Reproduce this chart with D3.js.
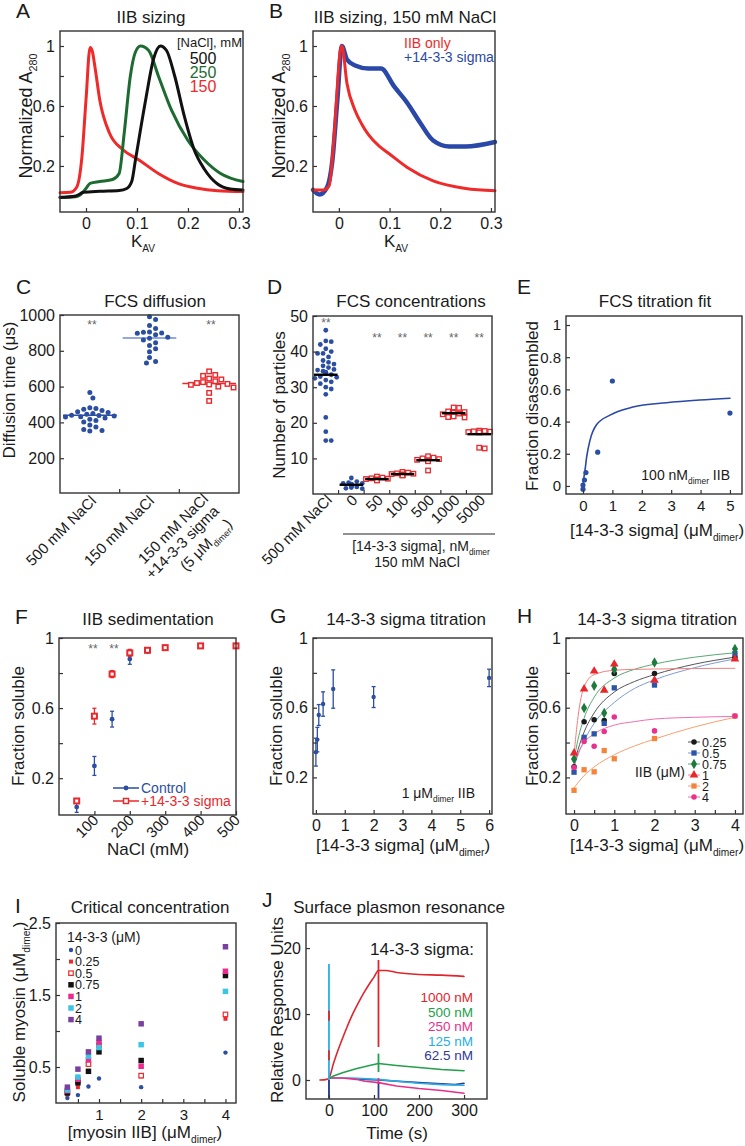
<!DOCTYPE html>
<html>
<head>
<meta charset="utf-8">
<script src="https://d3js.org/d3.v7.min.js"></script>
<style>
body { margin: 0; background: #fff; }
svg { display: block; }
</style>
</head>
<body>
<svg width="745" height="1146"></svg>
<script>
// ---------- data ----------
// A: elution profiles [K_AV, normalized A280]
const sizing500 = [[-0.051,-0.01],[-0.02,0.0],[-0.005,0.024],[0.027,0.031],[0.065,0.036],[0.08,0.05],[0.09,0.1],[0.097,0.24],[0.117,0.64],[0.133,0.92],[0.146,1.0],[0.158,0.97],[0.174,0.80],[0.193,0.53],[0.212,0.31],[0.232,0.18],[0.258,0.08],[0.283,0.047],[0.308,0.04]];
const sizing250 = [[-0.051,-0.009],[-0.02,-0.005],[-0.011,0.007],[0.0,0.05],[0.008,0.084],[0.027,0.096],[0.052,0.11],[0.065,0.15],[0.075,0.42],[0.087,0.80],[0.097,0.96],[0.107,1.0],[0.123,0.97],[0.142,0.80],[0.168,0.57],[0.2,0.37],[0.232,0.24],[0.264,0.15],[0.308,0.096]];
const sizing150 = [[-0.051,0.022],[-0.031,0.024],[-0.018,0.06],[-0.008,0.26],[0.0,0.64],[0.008,0.99],[0.012,0.97],[0.018,0.85],[0.027,0.64],[0.046,0.42],[0.072,0.31],[0.104,0.24],[0.142,0.15],[0.18,0.084],[0.219,0.051],[0.258,0.035],[0.308,0.029]];
// B
const sizingIIB = [[-0.051,0.04],[-0.03,0.04],[-0.019,0.07],[-0.01,0.37],[0.003,0.97],[0.006,1.0],[0.016,0.75],[0.032,0.57],[0.045,0.48],[0.058,0.41],[0.08,0.33],[0.096,0.29],[0.135,0.19],[0.186,0.10],[0.25,0.05],[0.308,0.035]];
const sizingSigma = [[-0.051,0.04],[-0.038,0.01],[-0.023,0.06],[-0.013,0.23],[-0.003,0.64],[0.006,1.0],[0.016,0.91],[0.032,0.87],[0.058,0.85],[0.083,0.85],[0.109,0.73],[0.135,0.62],[0.16,0.49],[0.186,0.37],[0.218,0.33],[0.25,0.33],[0.308,0.36]];

// C: diffusion times (us)
const diffCats = ["500 mM NaCl", "150 mM NaCl", "150 mM NaCl +14-3-3 sigma"];
const diff500 = [567,537,482,478,474,466,460,455,450,446,440,438,436,432,430,425,418,410,402,385,375,360,355,352];
const diff150 = [990,975,942,925,905,903,900,898,890,876,870,860,845,830,812,795,762,740,732];
const diffSigma = [685,665,660,645,640,630,625,620,615,612,610,600,595,565,520];
const diffMedian = [440, 872, 617];

// D: number of particles
const partCats = ["500 mM NaCl","0","50","100","500","1000","5000"];
const part500 = [46,43,42.8,42,40.8,40,39.5,39.5,38.5,37.5,37,36.5,36,35.5,35,34.8,34.5,34.2,34,33.8,33.5,33,32.8,32.5,32,31.5,31,30,29.5,28,21.5,17.5,15,15];
const part0 = [4.5,3.5,3.2,3,3,2.8,2.7,2.6,2.5,2.4,2.2,2,1.8,1.6,1.5];
const part50 = [4.9,4.6,4.4,4.3,4.2,4.1,4.0,3.9,3.8];
const part100 = [6.2,6.0,5.8,5.7,5.6,5.5,5.4,5.3,5.2];
const part500s = [10.6,10.2,10.0,9.8,9.6,9.5,9.3,9.2,6.6];
const part1000 = [24.3,24.2,23.2,23.0,22.8,22.6,22.4,21.8,21.6,21.5];
const part5000 = [17.8,17.7,17.6,17.5,17.4,17.3,13.0,12.8];
const partMedian = [33.5,2.6,4.2,5.6,9.5,22.7,16.8];

// E: titration fit
const fcsConc = [0,0,0.05,0.1,0.5,1,5];
const fcsFrac = [-0.02,0.006,0.037,0.083,0.21,0.652,0.453];
const fcsFitConc = [0,0.03,0.07,0.125,0.24,0.46,0.92,1.7,2.84,3.98,5];
const fcsFitFrac = [0,0.05,0.1,0.18,0.285,0.38,0.44,0.49,0.517,0.534,0.545];

// F: sedimentation vs NaCl
const sedNaClCtrl = [50,100,150,200,250,500];
const sedCtrl = [0.035,0.27,0.537,0.88,0.925,0.955];
const sedCtrlErr = [0.03,0.054,0.045,0.03,0.01,0.01];
const sedNaClSigma = [50,100,150,200,250,300,400,500];
const sedSigma = [0.07,0.554,0.794,0.915,0.93,0.945,0.955,0.955];
const sedSigmaErr = [0.01,0.045,0.02,0.02,0.01,0.01,0.005,0.005];

// G: titration at 1 uM IIB
const titConc = [0,0.05,0.1,0.25,0.6,2,6];
const titFrac = [0.345,0.417,0.558,0.621,0.707,0.661,0.771];
const titErr = [0.08,0.07,0.06,0.07,0.11,0.06,0.05];

// H: titration at several IIB concentrations
const hConc = [0,0.25,0.5,0.75,1,2,4];
const hIIB = ["0.25","0.5","0.75","1","2","4"];
const hSol = [
  [0.261,0.52,0.531,0.526,0.796,0.796,0.89],
  [0.23,0.43,0.45,0.51,0.714,0.73,0.91],
  [0.305,0.598,0.726,0.57,0.82,0.86,0.937],
  [0.34,0.707,0.81,0.70,0.85,0.758,0.88],
  [0.126,0.244,0.232,0.354,0.307,0.423,0.552],
  [0.257,0.406,0.379,0.463,0.547,0.467,0.552]
];
const hFitConc = [0,0.1,0.25,0.5,1,1.5,2,3,4];
const hFit = [
  [0.27,0.36,0.46,0.57,0.69,0.75,0.79,0.85,0.89],
  [0.26,0.33,0.41,0.51,0.63,0.71,0.76,0.83,0.88],
  [0.30,0.42,0.54,0.66,0.77,0.82,0.85,0.89,0.915],
  [0.33,0.55,0.72,0.79,0.815,0.82,0.822,0.825,0.826],
  [0.14,0.17,0.21,0.26,0.33,0.38,0.42,0.49,0.545],
  [0.27,0.34,0.40,0.45,0.50,0.52,0.535,0.545,0.55]
];

// I: critical concentration
const myosinIIB = [0.25,0.5,0.75,1,2,4];
const sigmaLevels = ["0","0.25","0.5","0.75","1","2","4"];
const solMyosin = [
  [0.07,0.11,0.23,0.34,0.22,0.70],
  [0.12,0.22,0.58,0.83,0.37,1.17],
  [0.15,0.31,0.54,0.80,0.38,1.23],
  [0.14,0.28,0.44,0.71,0.59,1.77],
  [0.17,0.33,0.60,0.84,0.51,1.83],
  [0.18,0.36,0.65,0.77,0.81,1.55],
  [0.22,0.47,0.71,0.90,1.10,2.17]
];

// J: SPR sensorgrams [time s, RU]
const spr1000 = [[-20,0],[-5,0.1],[0,0.3],[10,2.5],[20,4.5],[30,6.3],[40,8],[50,9.6],[60,11],[70,12.3],[80,13.5],[90,14.6],[100,15.6],[110,16.6],[125,16.6],[150,16.3],[200,16.0],[250,15.9],[300,15.7]];
const spr500 = [[0,0.2],[10,0.6],[30,1.1],[60,1.7],[90,2.2],[110,2.5],[150,2.2],[200,1.9],[250,1.6],[300,1.4]];
const spr250 = [[0,0.3],[30,0.3],[60,0.1],[80,-0.2],[110,-0.4],[150,-0.9],[200,-1.3],[250,-1.6],[300,-2.0]];
const spr125 = [[0,0.3],[50,0.3],[110,0.1],[150,-0.2],[200,-0.5],[250,-0.7],[300,-0.8]];
const spr62 = [[60,0.2],[75,0.1],[110,0.0],[200,-0.4],[280,-0.7],[300,-0.5]];
const sprLabels = ["1000 nM","500 nM","250 nM","125 nM","62.5 nM"];
const sprSpikes = [[0,-2.8,17.6,3],[0,9,10.5,0],[0,3,4.5,0],[0,-2.8,0,4],[110,5,18.2,0],[110,1.2,4,1],[110,-2.8,-0.4,4],[110,-0.6,0.3,2]];

// ---------- helpers ----------
const FONT = "'Liberation Sans', Arial, Helvetica, sans-serif";
const svg = d3.select("svg").attr("font-family", FONT);
const BLUE = "#2b4ea2", RED = "#e8282c", INK = "#1a1a1a";
const TITLE = 17, LAB = 17, TICK = 15, LETTER = 21;

function txt(x, y, parts, o = {}) {
  const size = o.size || 15;
  const t = svg.append("text").attr("x", x).attr("y", y)
    .attr("font-size", size).attr("fill", o.fill || INK)
    .attr("text-anchor", o.anchor || "start");
  if (o.rotate) t.attr("transform", `rotate(${o.rotate},${x},${y})`);
  let shift = 0;
  (typeof parts === "string" ? [parts] : parts).forEach(p => {
    if (typeof p === "string") {
      t.append("tspan").attr("dy", -shift).text(p);
      shift = 0;
    } else {
      shift = size * 0.28;
      t.append("tspan").attr("dy", shift).attr("font-size", size * 0.6).text(p.sub);
    }
  });
  return t;
}

function frame(x0, y0, x1, y1) {
  svg.append("rect").attr("x", x0).attr("y", y0)
    .attr("width", x1 - x0).attr("height", y1 - y0)
    .attr("fill", "none").attr("stroke", "#333").attr("stroke-width", 1.4);
}

function styleAxis(g, size) {
  g.select(".domain").remove();
  g.attr("font-family", FONT).attr("font-size", size);
  g.selectAll("line").attr("stroke", "#333").attr("stroke-width", 1.2);
  g.selectAll("text").attr("fill", INK);
}

function axisL(y, x0, ticks, minor, size = TICK) {
  const g = svg.append("g").attr("transform", `translate(${x0},0)`)
    .call(d3.axisLeft(y).tickValues(ticks).tickFormat(d => String(d))
      .tickSizeInner(-4).tickSizeOuter(0).tickPadding(5));
  styleAxis(g, size);
  if (minor) {
    const m = svg.append("g").attr("transform", `translate(${x0},0)`)
      .call(d3.axisLeft(y).tickValues(minor).tickFormat("").tickSizeInner(-4).tickSizeOuter(0));
    styleAxis(m, size);
  }
}

function axisB(x, y0, ticks, minor, size = TICK, labels = true) {
  const g = svg.append("g").attr("transform", `translate(0,${y0})`)
    .call(d3.axisBottom(x).tickValues(ticks).tickFormat(labels ? (d => String(d)) : "")
      .tickSizeInner(-4).tickSizeOuter(0).tickPadding(6));
  styleAxis(g, size);
  if (minor) {
    const m = svg.append("g").attr("transform", `translate(0,${y0})`)
      .call(d3.axisBottom(x).tickValues(minor).tickFormat("").tickSizeInner(-4).tickSizeOuter(0));
    styleAxis(m, size);
  }
}

function trace(data, x, y, color, width, curve = d3.curveMonotoneX) {
  svg.append("path").datum(data)
    .attr("d", d3.line().x(d => x(d[0])).y(d => y(d[1])).curve(curve))
    .attr("fill", "none").attr("stroke", color).attr("stroke-width", width)
    .attr("stroke-linejoin", "round").attr("stroke-linecap", "round");
}

// beeswarm-like horizontal dodge
function dodge(ys, cx, r, half) {
  const out = [];
  ys.forEach(y => {
    let best = 0;
    for (let k = 0; k < 60; k++) {
      const off = (k % 2 ? 1 : -1) * Math.ceil(k / 2) * r * 1.05;
      if (Math.abs(off) > half) continue;
      if (out.every(p => Math.hypot(p[0] - (cx + off), p[1] - y) >= 2 * r)) { best = off; break; }
    }
    out.push([cx + best, y]);
  });
  return out;
}

function circles(pts, r, fill) {
  svg.append("g").selectAll("circle").data(pts).join("circle")
    .attr("cx", d => d[0]).attr("cy", d => d[1]).attr("r", r).attr("fill", fill);
}
function openSquares(pts, s, color, sw = 1.4) {
  svg.append("g").selectAll("rect").data(pts).join("rect")
    .attr("x", d => d[0] - s / 2).attr("y", d => d[1] - s / 2)
    .attr("width", s).attr("height", s)
    .attr("fill", "#fff").attr("stroke", color).attr("stroke-width", sw);
}
function symbols(pts, type, size, fill, stroke) {
  svg.append("g").selectAll("path").data(pts).join("path")
    .attr("transform", d => `translate(${d[0]},${d[1]})`)
    .attr("d", d3.symbol(type, size))
    .attr("fill", fill).attr("stroke", stroke || "none").attr("stroke-width", stroke ? 1.4 : 0);
}
function stars(x, y) {
  txt(x, y, "**", { size: 12, fill: "#666", anchor: "middle" });
}

// ---------- A ----------
{
  const x = d3.scaleLinear([-0.051, 0.308], [60, 243]);
  const y = d3.scaleLinear([-0.107, 1.1], [212, 31]);
  trace(sizing150, x, y, "#ee2a2a", 3);
  trace(sizing250, x, y, "#1e6b32", 3);
  trace(sizing500, x, y, "#111", 3);
  frame(60, 31, 243, 212);
  axisL(y, 60, [0.2, 0.6, 1], [0.4, 0.8], 16);
  axisB(x, 212, [0, 0.1, 0.2, 0.3], null, 16);
  txt(16, 18, "A", { size: LETTER });
  txt(151, 23, "IIB sizing", { size: TITLE, anchor: "middle" });
  txt(32, 116, ["Normalized A", { sub: "280" }], { size: 18, anchor: "middle", rotate: -90 });
  txt(143, 247, ["K", { sub: "AV" }], { size: 17, anchor: "middle" });
  txt(242, 47, "[NaCl], mM", { size: 13, anchor: "end" });
  txt(203, 64, "500", { size: 16, anchor: "middle", fill: "#111" });
  txt(203, 78, "250", { size: 16, anchor: "middle", fill: "#1e6b32" });
  txt(203, 92, "150", { size: 16, anchor: "middle", fill: "#ee2a2a" });
}

// ---------- B ----------
{
  const x = d3.scaleLinear([-0.051, 0.308], [313, 495]);
  const y = d3.scaleLinear([-0.107, 1.1], [212, 31]);
  trace(sizingSigma, x, y, "#2a48a8", 4.5);
  trace(sizingIIB, x, y, "#ee2a2a", 3);
  frame(313, 31, 495, 212);
  axisL(y, 313, [0.2, 0.6, 1], [0.4, 0.8], 16);
  axisB(x, 212, [0, 0.1, 0.2, 0.3], null, 16);
  txt(269, 18, "B", { size: LETTER });
  txt(405, 23, "IIB sizing, 150 mM NaCl", { size: TITLE, anchor: "middle" });
  txt(285, 116, ["Normalized A", { sub: "280" }], { size: 18, anchor: "middle", rotate: -90 });
  txt(396, 247, ["K", { sub: "AV" }], { size: 17, anchor: "middle" });
  txt(404, 48, "IIB only", { size: 14, fill: "#ee2a2a" });
  txt(404, 62, "+14-3-3 sigma", { size: 14, fill: "#2a48a8" });
}

// ---------- C ----------
{
  const x = d3.scaleBand(diffCats, [60, 239]);
  const y = d3.scaleLinear([0, 1000], [494, 315]);
  const groups = [diff500, diff150, diffSigma];
  const medCol = [BLUE, "#6f8cd0", RED];
  groups.forEach((vals, i) => {
    const cx = x(diffCats[i]) + x.bandwidth() / 2;
    svg.append("line").attr("x1", x(diffCats[i]) + 3).attr("x2", x(diffCats[i]) + x.bandwidth() - 3)
      .attr("y1", y(diffMedian[i])).attr("y2", y(diffMedian[i]))
      .attr("stroke", medCol[i]).attr("stroke-width", 1.5);
    const pts = dodge(vals.map(v => y(v)), cx, 2.9, 26);
    if (i < 2) circles(pts, 2.5, BLUE); else openSquares(pts, 4.5, RED);
  });
  frame(60, 315, 239, 493);
  axisL(y, 60, [200, 400, 600, 800, 1000], null, 16);
  [1, 2].forEach(i => svg.append("line").attr("x1", 60 + x.step() * i).attr("x2", 60 + x.step() * i)
    .attr("y1", 493).attr("y2", 489).attr("stroke", "#333").attr("stroke-width", 1.2));
  stars(92, 329); stars(211, 329);
  txt(16, 294, "C", { size: LETTER });
  txt(155, 307, "FCS diffusion", { size: TITLE, anchor: "middle" });
  txt(15, 390, "Diffusion time (μs)", { size: LAB, anchor: "middle", rotate: -90 });
  txt(97, 502, "500 mM NaCl", { size: 15, anchor: "end", rotate: -45 });
  txt(155, 502, "150 mM NaCl", { size: 15, anchor: "end", rotate: -45 });
  txt(209, 500, "150 mM NaCl", { size: 15, anchor: "end", rotate: -45 });
  txt(220, 512, "+14-3-3 sigma", { size: 15, anchor: "end", rotate: -45 });
  txt(233, 525, ["(5 μM", { sub: "dimer" }, ")"], { size: 15, anchor: "end", rotate: -45 });
}

// ---------- D ----------
{
  const x = d3.scaleBand(partCats, [313, 492]);
  const y = d3.scaleLinear([0, 50], [494, 316]);
  const groups = [part500, part0, part50, part100, part500s, part1000, part5000];
  groups.forEach((vals, i) => {
    const cx = x(partCats[i]) + x.bandwidth() / 2;
    const pts = dodge(vals.map(v => y(v)), cx, 2.6, 11);
    if (i < 2) circles(pts, 2.4, BLUE); else openSquares(pts, 4.5, RED, 1.3);
    svg.append("line").attr("x1", x(partCats[i]) + 1).attr("x2", x(partCats[i]) + x.bandwidth() - 1)
      .attr("y1", y(partMedian[i])).attr("y2", y(partMedian[i]))
      .attr("stroke", "#000").attr("stroke-width", 2.4);
    if (i >= 2) stars(cx, 342);
    txt(cx + 7, 501, partCats[i], { size: 15, anchor: "end", rotate: -45 });
  });
  stars(326, 327);
  frame(313, 316, 492, 494);
  axisL(y, 313, [10, 20, 30, 40, 50], null, 16);
  d3.range(1, 7).forEach(i => svg.append("line").attr("x1", 313 + x.step() * i).attr("x2", 313 + x.step() * i)
    .attr("y1", 494).attr("y2", 490).attr("stroke", "#333").attr("stroke-width", 1.2));
  svg.append("line").attr("x1", 343).attr("x2", 495).attr("y1", 534).attr("y2", 534)
    .attr("stroke", "#222").attr("stroke-width", 1.2);
  txt(421, 551, ["[14-3-3 sigma], nM", { sub: "dimer" }], { size: 14, anchor: "middle" });
  txt(417, 567, "150 mM NaCl", { size: 14, anchor: "middle" });
  txt(267, 294, "D", { size: LETTER });
  txt(411, 307, "FCS concentrations", { size: TITLE, anchor: "middle" });
  txt(285, 405, "Number of particles", { size: LAB, anchor: "middle", rotate: -90 });
}

// ---------- E ----------
{
  const x = d3.scaleLinear([-0.578, 5.41], [566, 742]);
  const y = d3.scaleLinear([-0.05, 1.056], [494, 316]);
  trace(fcsFitConc.map((c, i) => [c, fcsFitFrac[i]]), x, y, "#2a48a8", 1.6);
  circles(fcsConc.map((c, i) => [x(c), y(fcsFrac[i])]), 2.6, BLUE);
  frame(566, 316, 742, 494);
  axisL(y, 566, [0, 0.2, 0.4, 0.6, 0.8, 1], null, TICK);
  axisB(x, 494, [0, 1, 2, 3, 4, 5], null, TICK);
  txt(517, 294, "E", { size: LETTER });
  txt(655, 307, "FCS titration fit", { size: TITLE, anchor: "middle" });
  txt(538, 406, "Fraction disassembled", { size: LAB, anchor: "middle", rotate: -90 });
  txt(657, 536, ["[14-3-3 sigma] (μM", { sub: "dimer" }, ")"], { size: LAB, anchor: "middle" });
  txt(730, 480, ["100 nM", { sub: "dimer" }, " IIB"], { size: 14, anchor: "end" });
}

// ---------- F ----------
{
  const x = d3.scaleLinear([0, 500], [59, 236]);
  const y = d3.scaleLinear([-0.01, 1], [815, 638]);
  const bars = (xs, ys, es, col) => xs.forEach((c, i) => {
    const cx = x(c);
    svg.append("line").attr("x1", cx).attr("x2", cx).attr("y1", y(ys[i] - es[i])).attr("y2", y(ys[i] + es[i])).attr("stroke", col).attr("stroke-width", 1.3);
    [ys[i] - es[i], ys[i] + es[i]].forEach(v => svg.append("line").attr("x1", cx - 2).attr("x2", cx + 2)
      .attr("y1", y(v)).attr("y2", y(v)).attr("stroke", col).attr("stroke-width", 1.3));
  });
  bars(sedNaClCtrl, sedCtrl, sedCtrlErr, BLUE);
  bars(sedNaClSigma, sedSigma, sedSigmaErr, RED);
  circles(sedNaClCtrl.map((c, i) => [x(c), y(sedCtrl[i])]), 2.4, BLUE);
  openSquares(sedNaClSigma.map((c, i) => [x(c), y(sedSigma[i])]), 5, RED, 2);
  frame(59, 638, 236, 815);
  axisL(y, 59, [0.2, 0.6, 1], [0.4, 0.8], 16);
  axisB(x, 815, [100, 200, 300, 400, 500], null, TICK, false);
  [100, 200, 300, 400, 500].forEach(v => txt(x(v) + 5, 821, String(v), { size: 15, anchor: "end", rotate: -45 }));
  stars(93, 653); stars(114, 653);
  svg.append("line").attr("x1", 113).attr("x2", 139).attr("y1", 788).attr("y2", 788).attr("stroke", BLUE).attr("stroke-width", 1.5);
  circles([[126, 788]], 2.4, BLUE);
  txt(141, 792.5, "Control", { size: 14, fill: BLUE });
  svg.append("line").attr("x1", 113).attr("x2", 139).attr("y1", 801).attr("y2", 801).attr("stroke", RED).attr("stroke-width", 1.5);
  openSquares([[126, 801]], 5, RED, 1.5);
  txt(141, 806, "+14-3-3 sigma", { size: 14, fill: RED });
  txt(15, 624, "F", { size: LETTER });
  txt(148, 625, "IIB sedimentation", { size: TITLE, anchor: "middle" });
  txt(24, 726, "Fraction soluble", { size: LAB, anchor: "middle", rotate: -90 });
  txt(148, 855, "NaCl (mM)", { size: LAB, anchor: "middle" });
}

// ---------- G ----------
{
  const x = d3.scaleLinear([-0.1, 6.1], [313, 492]);
  const y = d3.scaleLinear([-0.01, 1], [814, 638]);
  titConc.forEach((c, i) => {
    const cx = x(c);
    svg.append("line").attr("x1", cx).attr("x2", cx).attr("y1", y(titFrac[i] - titErr[i])).attr("y2", y(titFrac[i] + titErr[i])).attr("stroke", BLUE).attr("stroke-width", 1.3);
    [titFrac[i] - titErr[i], titFrac[i] + titErr[i]].forEach(v => svg.append("line").attr("x1", cx - 2).attr("x2", cx + 2)
      .attr("y1", y(v)).attr("y2", y(v)).attr("stroke", BLUE).attr("stroke-width", 1.3));
  });
  circles(titConc.map((c, i) => [x(c), y(titFrac[i])]), 2.2, BLUE);
  frame(313, 638, 492, 814);
  axisL(y, 313, [0.2, 0.6, 1], [0.4, 0.8], 16);
  axisB(x, 814, [0, 1, 2, 3, 4, 5, 6], null, 16);
  txt(270, 623, "G", { size: LETTER });
  txt(406, 625, "14-3-3 sigma titration", { size: TITLE, anchor: "middle" });
  txt(282, 726, "Fraction soluble", { size: LAB, anchor: "middle", rotate: -90 });
  txt(403, 851, ["[14-3-3 sigma] (μM", { sub: "dimer" }, ")"], { size: LAB, anchor: "middle" });
  txt(475, 798, ["1 μM", { sub: "dimer" }, " IIB"], { size: 14, anchor: "end" });
}

// ---------- H ----------
{
  const x = d3.scaleLinear([-0.2, 4.2], [566, 743]);
  const y = d3.scaleLinear([-0.01, 1], [814, 638]);
  const col = ["#1a1a1a", "#2b55a8", "#1e7a3c", "#e8262b", "#f5843a", "#e8328d"];
  const fitCol = ["#555", "#7f9bd6", "#5aa874", "#f08080", "#f8a070", "#ee70b0"];
  const sym = [d3.symbolCircle, d3.symbolSquare, d3.symbolDiamond, d3.symbolTriangle, d3.symbolSquare, d3.symbolCircle];
  const symSize = [24, 28, 32, 32, 28, 24];
  hFit.forEach((f, k) => trace(hFitConc.map((c, i) => [c, f[i]]), x, y, fitCol[k], 1, d3.curveMonotoneX));
  hSol.forEach((s, k) => symbols(hConc.map((c, i) => [x(c), y(s[i])]), sym[k], symSize[k], col[k]));
  frame(566, 638, 743, 814);
  axisL(y, 566, [0.2, 0.6, 1], [0.4, 0.8], 16);
  axisB(x, 814, [0, 1, 2, 3, 4], [0.5, 1.5, 2.5, 3.5], 16);
  hIIB.forEach((lab, k) => {
    const ly = 742 + k * 11;
    svg.append("line").attr("x1", 688).attr("x2", 700).attr("y1", ly).attr("y2", ly).attr("stroke", fitCol[k]).attr("stroke-width", 1);
    symbols([[694, ly]], sym[k], symSize[k], col[k]);
    txt(702, ly + 4.5, lab, { size: 12.5 });
  });
  txt(660, 777, "IIB (μM)", { size: 14, anchor: "middle" });
  txt(517, 623, "H", { size: LETTER });
  txt(657, 625, "14-3-3 sigma titration", { size: TITLE, anchor: "middle" });
  txt(538, 726, "Fraction soluble", { size: LAB, anchor: "middle", rotate: -90 });
  txt(657, 851, ["[14-3-3 sigma] (μM", { sub: "dimer" }, ")"], { size: LAB, anchor: "middle" });
}

// ---------- I ----------
{
  const x = d3.scaleLinear([-0.02, 4.25], [56, 236]);
  const y = d3.scaleLinear([0, 2.5], [1103, 923]);
  const col = ["#2b4ea2", "#ee2a2f", "#ee2a2f", "#111", "#ec2a8f", "#3cc4e4", "#7b3f9e"];
  const draw = (pts, k) => {
    if (k === 0) circles(pts, 2.2, col[k]);
    else if (k === 1) symbols(pts, d3.symbolSquare, 16, col[k]);
    else if (k === 2) openSquares(pts, 4.5, col[k], 1.2);
    else symbols(pts, d3.symbolSquare, 30, col[k]);
  };
  solMyosin.forEach((s, k) => draw(myosinIIB.map((m, i) => [x(m), y(s[i])]), k));
  frame(56, 923, 236, 1103);
  axisL(y, 56, [0.5, 1.5, 2.5], [1, 2], 16);
  axisB(x, 1103, [1, 2, 3, 4], [0.5, 1.5, 2.5, 3.5], 15);
  txt(67, 942, "14-3-3 (μM)", { size: 14 });
  sigmaLevels.forEach((lab, k) => {
    const ly = 950 + k * 11.6;
    draw([[71, ly]], k);
    txt(75, ly + 4.5, lab, { size: 12.5 });
  });
  txt(15, 913, "I", { size: LETTER });
  txt(150, 913, "Critical concentration", { size: TITLE, anchor: "middle" });
  txt(25, 1012, ["Soluble myosin (μM", { sub: "dimer" }, ")"], { size: LAB, anchor: "middle", rotate: -90 });
  txt(145, 1138, ["[myosin IIB] (μM", { sub: "dimer" }, ")"], { size: LAB, anchor: "middle" });
}

// ---------- J ----------
{
  const x = d3.scaleLinear([-51, 351], [306, 487]);
  const y = d3.scaleLinear([-2.88, 23.8], [1099, 923]);
  const col = ["#e0262d", "#22a04b", "#e8308a", "#27aee6", "#2f3a92"];
  const lin = d3.curveLinear;
  trace(spr62, x, y, col[4], 1.6, lin);
  trace(spr125, x, y, col[3], 1.6, lin);
  trace(spr250, x, y, col[2], 1.6, lin);
  trace(spr500, x, y, col[1], 1.6, lin);
  trace(spr1000, x, y, col[0], 1.6, d3.curveMonotoneX);
  sprSpikes.forEach(s => svg.append("line").attr("x1", x(s[0])).attr("x2", x(s[0]))
    .attr("y1", y(s[1])).attr("y2", y(s[2])).attr("stroke", col[s[3]]).attr("stroke-width", 1.8));
  frame(306, 923, 487, 1099);
  axisL(y, 306, [0, 10, 20], null, 16);
  axisB(x, 1099, [0, 100, 200, 300], null, 16);
  txt(474, 955, "14-3-3 sigma:", { size: 17, anchor: "end" });
  sprLabels.forEach((lab, k) => txt(473, 1002 + k * 14.5, lab, { size: 13.5, anchor: "end", fill: col[k] }));
  txt(262, 907, "J", { size: LETTER });
  txt(399, 913, "Surface plasmon resonance", { size: TITLE, anchor: "middle" });
  txt(283, 1010, "Relative Response Units", { size: LAB, anchor: "middle", rotate: -90 });
  txt(397, 1139, "Time (s)", { size: LAB, anchor: "middle" });
}
</script>
</body>
</html>
